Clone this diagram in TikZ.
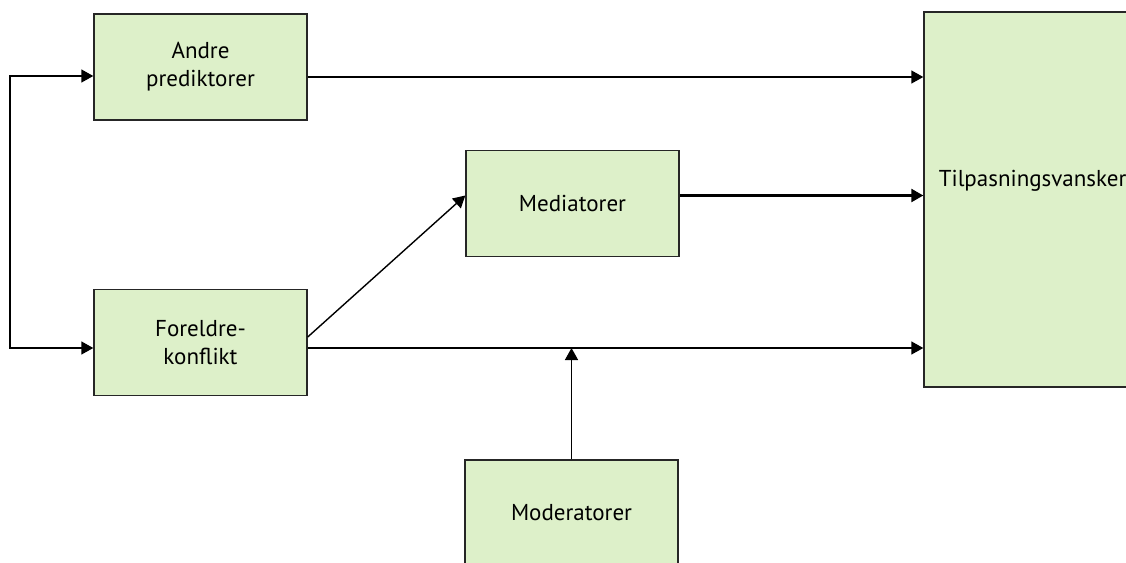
\documentclass[tikz,border=0pt]{standalone}
\usepackage{fontspec}
\setmainfont{PT Sans}
\usetikzlibrary{arrows.meta}
\definecolor{boxgreen}{RGB}{221,240,201}
\tikzset{
  blokk/.style={draw=black!85, line width=1.4pt, fill=boxgreen, minimum width=213pt, minimum height=106pt, align=center, font=\fontsize{23}{28}\selectfont, inner sep=0pt},
  pil/.style={line width=1.4pt, -{Triangle[length=12pt,width=13pt]}}
}

\begin{document}
\begin{tikzpicture}[x=1pt, y=-1pt]
			%%%%% START %%%%%
			\useasboundingbox (0, 0) rectangle (1126, 562);
			
			\node[blokk] (andre) at (200.5, 67) {Andre\\prediktorer};
			\node[blokk] (foreldre) at (200.5, 342.5) {Foreldre-\\konflikt};
			\node[blokk] (medi) at (572.5, 203.5) {Mediatorer};
			\node[blokk] (moder) at (571.5, 513) {Moderatorer};
			\node[blokk, minimum width=240pt, minimum height=375pt,
				label={[anchor=west, xshift=12pt, yshift=19pt, font=\fontsize{23}{28}\selectfont]west:Tilpasningsvansker}] (tilp) at (1044, 199.5) {};
			
			\coordinate (venstre) at (10, 0);
			\draw[pil, {Triangle[length=12pt,width=13pt]}-{Triangle[length=12pt,width=13pt]}] ([yshift=-9pt]andre.west) -- ([yshift=-9pt]andre.west -| venstre) -- ([yshift=-5.5pt]foreldre.west -| venstre) -- ([yshift=-5.5pt]foreldre.west);
			
			\draw[pil] ([yshift=-10pt]andre.east) -- ([yshift=-10pt]andre.east -| tilp.west);
			\draw[pil, line width=2.4pt] ([yshift=8pt]medi.east) -- ([yshift=8pt]medi.east -| tilp.west);
			\draw[pil] ([yshift=-5.5pt]foreldre.east) coordinate (fl) -- (fl -| tilp.west);
			\draw[pil] ([yshift=5.5pt]foreldre.east) -- ([yshift=8pt]medi.west);
			\draw[pil] (moder.north) -- (moder.north |- fl);
			
			%%%%% END %%%%%
\end{tikzpicture}
\end{document}
